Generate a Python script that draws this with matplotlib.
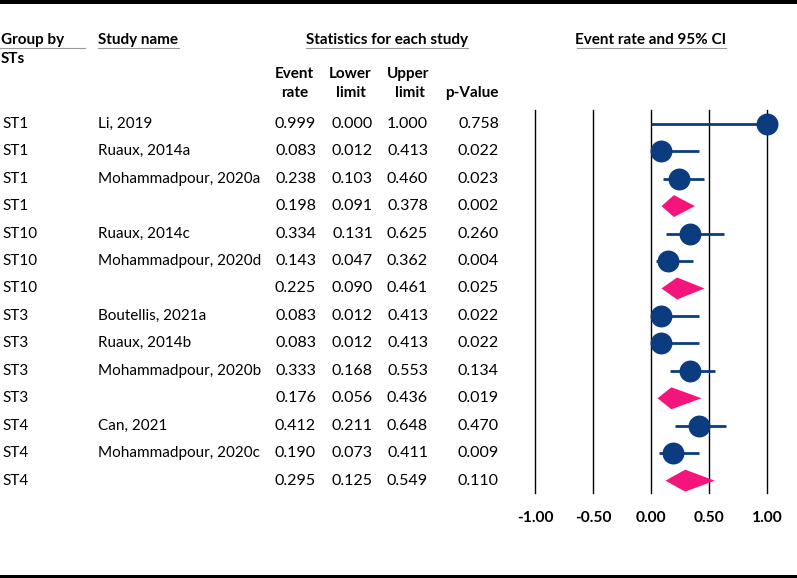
import matplotlib
matplotlib.use('Agg')
import matplotlib.pyplot as plt
from matplotlib.transforms import blended_transform_factory
from matplotlib.patches import Polygon, Rectangle
from matplotlib.lines import Line2D

groups = ['ST1', 'ST1', 'ST1', 'ST1', 'ST10', 'ST10', 'ST10',
          'ST3', 'ST3', 'ST3', 'ST3', 'ST4', 'ST4', 'ST4']
studies = ['Li, 2019', 'Ruaux, 2014a', 'Mohammadpour, 2020a', '',
           'Ruaux, 2014c', 'Mohammadpour, 2020d', '',
           'Boutellis, 2021a', 'Ruaux, 2014b', 'Mohammadpour, 2020b', '',
           'Can, 2021', 'Mohammadpour, 2020c', '']
event_rate = [0.999, 0.083, 0.238, 0.198, 0.334, 0.143, 0.225,
              0.083, 0.083, 0.333, 0.176, 0.412, 0.190, 0.295]
lower = [0.000, 0.012, 0.103, 0.091, 0.131, 0.047, 0.090,
         0.012, 0.012, 0.168, 0.056, 0.211, 0.073, 0.125]
upper = [1.000, 0.413, 0.460, 0.378, 0.625, 0.362, 0.461,
         0.413, 0.413, 0.553, 0.436, 0.648, 0.411, 0.549]
p_value = [0.758, 0.022, 0.023, 0.002, 0.260, 0.004, 0.025,
           0.022, 0.022, 0.134, 0.019, 0.470, 0.009, 0.110]
x_ticks = [-1.0, -0.5, 0.0, 0.5, 1.0]
x_tick_labels = ['-1.00', '-0.50', '0.00', '0.50', '1.00']

FONT = 'Lato'
FS_NUM = 11.5
FS_TXT = 11.0
plt.rcParams['font.family'] = [FONT, 'DejaVu Sans']

W, H = 797, 578
fig = plt.figure(figsize=(W / 100, H / 100), dpi=100)
fig.patch.set_facecolor('white')

def fx(px):
    return px / W

def fy(py):
    return 1 - py / H

NAVY = '#0B3C7F'
PINK = '#F3147C'

ax = fig.add_axes([fx(535), fy(493), (767 - 535) / W, (493 - 110) / H])
ax.set_xlim(-1, 1)
n = len(groups)
ax.set_ylim(13.45, -0.5)
for s in ax.spines.values():
    s.set_visible(False)
ax.set_yticks([])
for xv in x_ticks:
    ax.axvline(xv, color='black', lw=1.0, zorder=1, clip_on=False)
ax.set_xticks(x_ticks)
ax.set_xticklabels(x_tick_labels, fontweight='bold', fontsize=11.2)
ax.tick_params(axis='x', length=0, pad=13)

for i in range(n):
    if studies[i] == '':
        poly = Polygon([[lower[i], i], [event_rate[i], i - 0.4],
                        [upper[i], i], [event_rate[i], i + 0.4]],
                       closed=True, facecolor=PINK, edgecolor='none', zorder=3)
        ax.add_patch(poly)
    else:
        ax.plot([lower[i], upper[i]], [i, i], color=NAVY, lw=2.0,
                solid_capstyle='butt', zorder=2, clip_on=False)
        ax.plot([event_rate[i]], [i], 'o', color=NAVY, markersize=15.8,
                markeredgewidth=0, zorder=4, clip_on=False)

tr = blended_transform_factory(fig.transFigure, ax.transData)
for i in range(n):
    ax.text(fx(2), i, groups[i], transform=tr, ha='left', va='center', fontsize=FS_TXT)
    ax.text(fx(98), i, studies[i], transform=tr, ha='left', va='center', fontsize=FS_TXT)
    ax.text(fx(316), i, f'{event_rate[i]:.3f}', transform=tr, ha='right', va='center', fontsize=FS_NUM)
    ax.text(fx(373), i, f'{lower[i]:.3f}', transform=tr, ha='right', va='center', fontsize=FS_NUM)
    ax.text(fx(428), i, f'{upper[i]:.3f}', transform=tr, ha='right', va='center', fontsize=FS_NUM)
    ax.text(fx(499), i, f'{p_value[i]:.3f}', transform=tr, ha='right', va='center', fontsize=FS_NUM)

# headers
hdr = dict(fontsize=FS_TXT, fontweight='bold', va='center')
fig.text(fx(1), fy(40), 'Group by', ha='left', **hdr)
fig.text(fx(1), fy(59), 'STs', ha='left', **hdr)
fig.text(fx(98), fy(40), 'Study name', ha='left', **hdr)
fig.text(fx(387), fy(40), 'Statistics for each study', ha='center', **hdr)
fig.text(fx(651), fy(40), 'Event rate and 95% CI', ha='center', **hdr)
fig.text(fx(294), fy(74), 'Event', ha='center', **hdr)
fig.text(fx(295), fy(93), 'rate', ha='center', **hdr)
fig.text(fx(350), fy(74), 'Lower', ha='center', **hdr)
fig.text(fx(351), fy(93), 'limit', ha='center', **hdr)
fig.text(fx(408), fy(74), 'Upper', ha='center', **hdr)
fig.text(fx(410), fy(93), 'limit', ha='center', **hdr)
fig.text(fx(472), fy(93), 'p-Value', ha='center', **hdr)

for x0, x1 in [(0, 85), (98, 179), (306, 468), (577, 726)]:
    fig.add_artist(Line2D([fx(x0), fx(x1)], [fy(48), fy(48)],
                          color='#9a9a9a', lw=0.8))

# black frame bars
fig.add_artist(Rectangle((0, fy(3.5)), 1, 3.5 / H, transform=fig.transFigure,
                         facecolor='black', edgecolor='none'))
fig.add_artist(Rectangle((0, 0), 1, 3.5 / H, transform=fig.transFigure,
                         facecolor='black', edgecolor='none'))

fig.savefig('out.png', dpi=100, facecolor='white')
